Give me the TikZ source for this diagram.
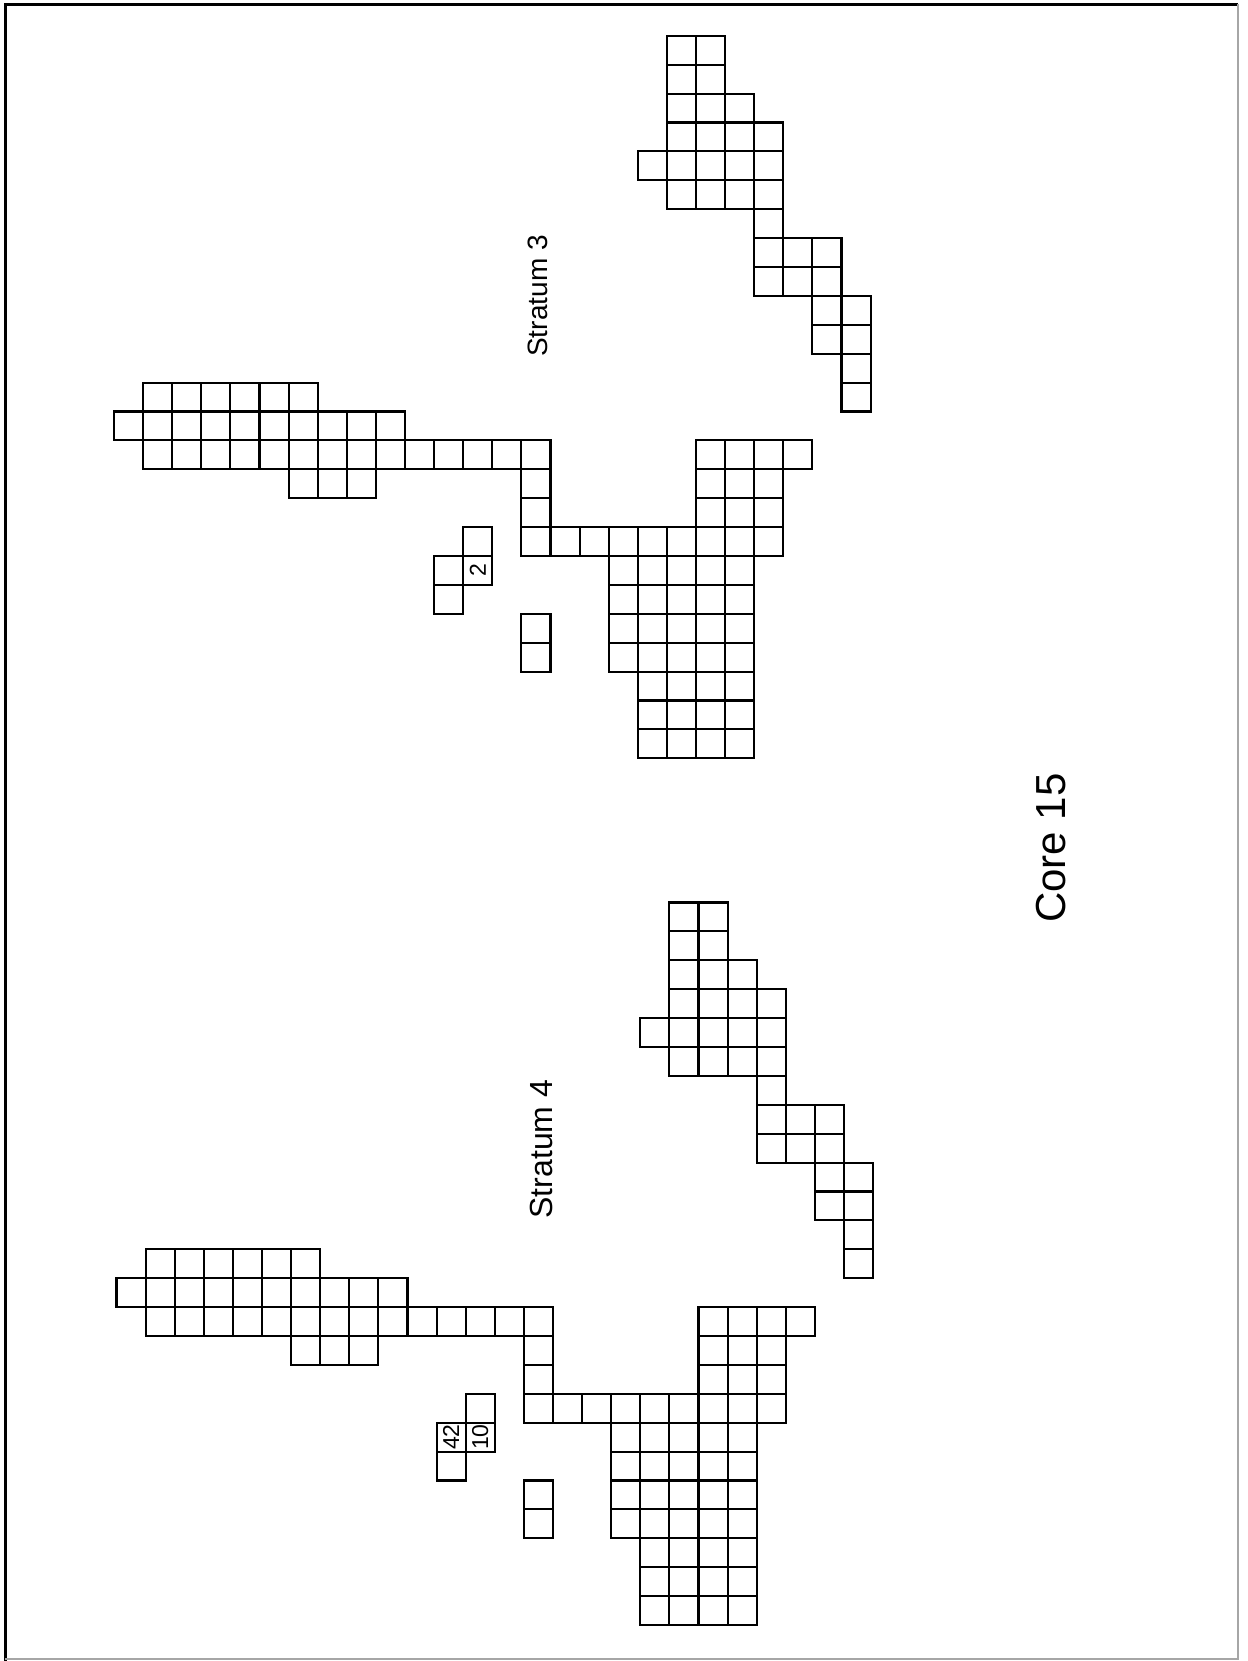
\documentclass[tikz,border=0pt]{standalone}
\usepackage{fontspec}
\setmainfont{Liberation Sans}
\tikzset{
  cell/.style={draw=black, line width=1.05pt},
  digit/.style={rotate=90, font=\fontsize{11.5}{11.5}\selectfont, inner sep=0pt},
  label3/.style={rotate=90, font=\fontsize{14}{14}\selectfont, inner sep=0pt},
  label4/.style={rotate=90, font=\fontsize{16}{16}\selectfont, inner sep=0pt},
  coretitle/.style={rotate=90, font=\fontsize{21}{21}\selectfont, inner sep=0pt}
}
\newcommand\drawcoregrid{%
  \foreach \r/\a/\b in {0/1/6,1/0/9,2/1/14,3/6/8,3/14/14,4/14/14,5/14/22,
      2/20/23,3/20/22,4/20/22,6/17/21,7/17/21,8/17/21,9/17/21,
      10/18/21,11/18/21,12/18/21,8/14/14,9/14/14,
      5/12/12,6/11/12,7/11/11,
      -12/19/20,-11/19/20,-10/19/21,-9/19/22,-8/18/22,-7/19/22,-6/22/22,
      -5/22/24,-4/22/24,-3/24/25,-2/24/25,-1/25/25,0/25/25}
  {\foreach \c in {\a,...,\b} {\draw[cell] (\c,\r) rectangle ++(1,1);}}%
}
\begin{document}
\begin{tikzpicture}[x=0.5pt,y=-0.5pt]
\useasboundingbox (0,0) rectangle (1248,1661);
\fill[white] (0,0) rectangle (1248,1661);
% page frame
\draw[black, line width=1.5pt] (5,1661) -- (5,4) -- (1238,4);
\draw[black!35, line width=0.8pt] (1238,4) -- (1238,1659) -- (5,1659);
% Stratum 3
\begin{scope}[shift={(114,382.6)},x={(14.55pt,0pt)},y={(0pt,-14.45pt)}]
  \drawcoregrid
  \node[digit] (d2) at (12.5,6.5) {2};
\end{scope}
% Stratum 4
\begin{scope}[shift={(116.5,1249.3)},x={(14.55pt,0pt)},y={(0pt,-14.45pt)}]
  \drawcoregrid
  \node[digit] (d42) at (11.5,6.5) {42};
  \node[digit] (d10) at (12.5,6.5) {10};
\end{scope}
\node[label3] (s3) at (538,296) {Stratum 3};
\node[label4] (s4) at (541,1149) {Stratum 4};
\node[coretitle] (core) at (1051,848) {Core 15};
\end{tikzpicture}
\end{document}
